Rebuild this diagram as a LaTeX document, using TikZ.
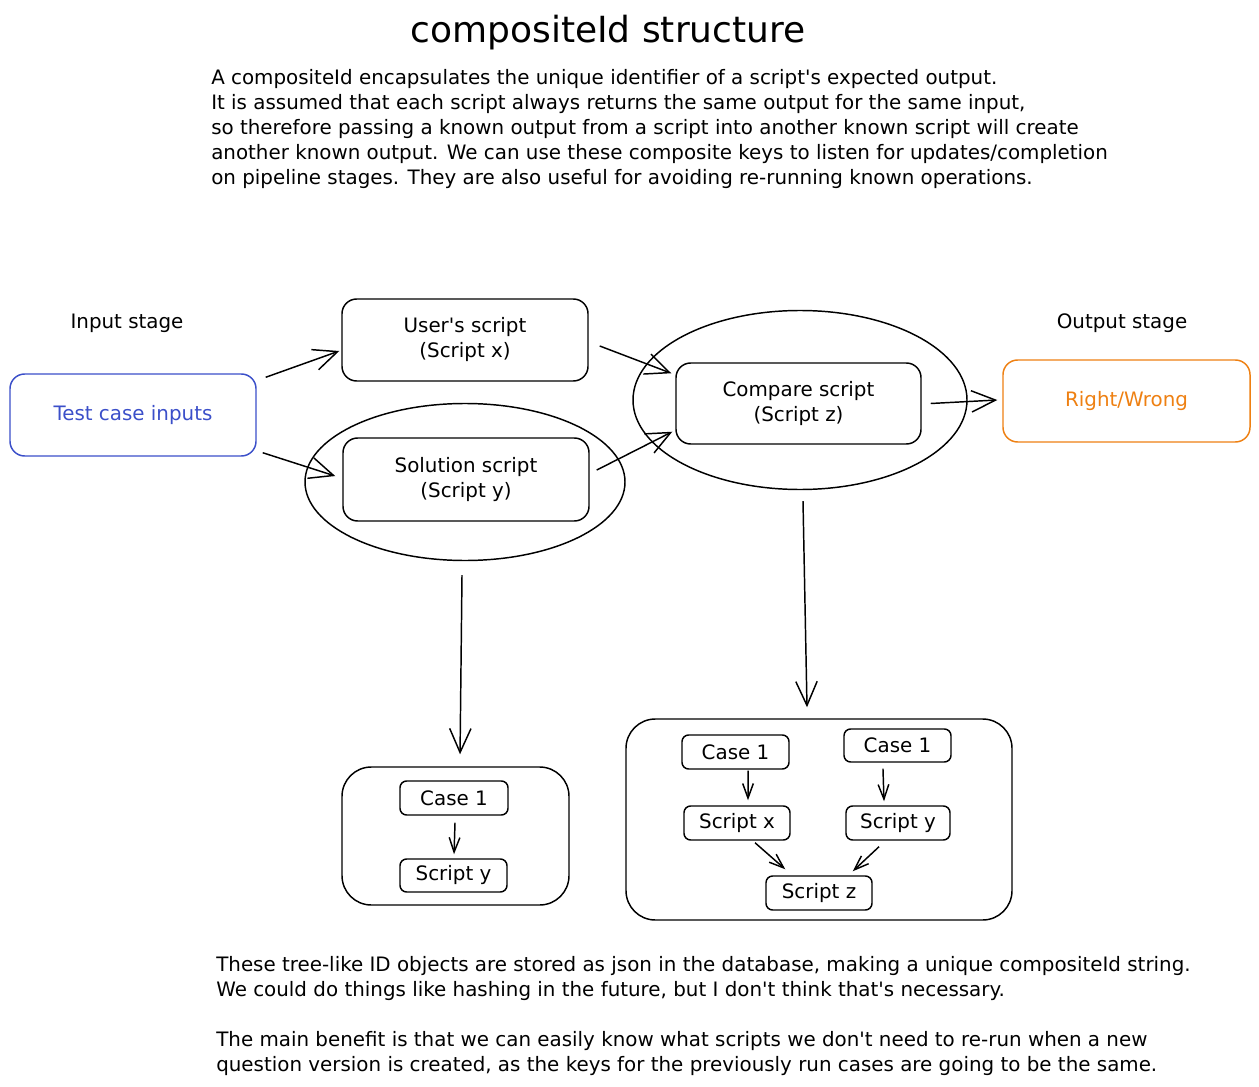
\documentclass[tikz,border=0pt]{standalone}
\usepackage{fontspec}
\setmainfont{DejaVu Sans}
\usetikzlibrary{arrows.meta,shapes.geometric}
\definecolor{inblue}{HTML}{3B4FC9}
\definecolor{outorange}{HTML}{EE8012}
\newcommand{\apos}{\textquotesingle}
\begin{document}
\begin{tikzpicture}[x=0.75pt,y=-0.75pt,
  every node/.style={font={\fontsize{14.9}{18.75}\selectfont}},
  box/.style={draw, line width=1.1pt, rounded corners=11pt, align=center, inner sep=0pt},
  smallbox/.style={draw, line width=1.1pt, rounded corners=5pt, align=center, inner sep=0pt, minimum width=80pt, minimum height=25pt},
  ring/.style={draw, ellipse, line width=1.1pt, inner sep=0pt},
  bigarrow/.style={draw, line width=1.1pt, -{Straight Barb[length=18pt,width=16pt,line width=1.1pt]}},
  smallarrow/.style={draw, line width=1.1pt, -{Straight Barb[length=11pt,width=8pt,line width=1.1pt]}},
  para/.style={anchor=north west, align=left, inner sep=0pt}
]
\useasboundingbox (0,0) rectangle (1259,1087);

% title and intro
\node (title) at (608,33) {\fontsize{27}{30}\selectfont compositeId structure};
\node[para] (intro) at (211,69) {A compositeId encapsulates the unique identifier of a script\apos s expected output.\\
It is assumed that each script always returns the same output for the same input,\\
so therefore passing a known output from a script into another known script will create\\
another known output. We can use these composite keys to listen for updates/completion\\
on pipeline stages. They are also useful for avoiding re-running known operations.};

% stage labels
\node (instage) at (127,323) {Input stage};
\node (outstage) at (1122,323) {Output stage};

% main boxes
\node[box, draw=inblue, text=inblue, minimum width=184.5pt, minimum height=61.5pt] (test) at (133,415) {Test case inputs};
\node[box, minimum width=184.5pt, minimum height=61.5pt] (user) at (465,340) {User\apos s script\\(Script x)};
\node[ring, minimum width=240pt, minimum height=117.75pt] (solell) at (465,482) {};
\node[box, minimum width=184.5pt, minimum height=62.25pt] (sol) at (466,479.5) {Solution script\\(Script y)};
\node[ring, minimum width=250.5pt, minimum height=134.25pt] (cmpell) at (800,400) {};
\node[box, minimum width=183.75pt, minimum height=60.75pt] (cmp) at (798.5,403.5) {Compare script\\(Script z)};
\node[box, draw=outorange, text=outorange, minimum width=185.25pt, minimum height=61.5pt] (rw) at (1126.5,401) {Right/Wrong};

% arrows between main boxes
\draw[bigarrow] ([xshift=6.75pt,yshift=-3pt]test.north east) -- ([xshift=-1.5pt,yshift=-8.25pt]user.west);
\draw[bigarrow] ([xshift=4.5pt,yshift=3pt]test.south east) -- ([xshift=-5.25pt,yshift=2.6pt]sol.west);
\draw[bigarrow] ([xshift=8.25pt,yshift=-4.5pt]user.east) -- ([xshift=-3pt,yshift=-8.25pt]cmp.north west);
\draw[bigarrow] ([xshift=5.25pt,yshift=7.1pt]sol.east) -- ([xshift=-2.25pt,yshift=9.75pt]cmp.south west);
\draw[bigarrow] ([xshift=6.75pt]cmp.east) -- ([xshift=-3.75pt,yshift=0.75pt]rw.west);

% containers
\node[box, rounded corners=22pt, minimum width=170.25pt, minimum height=103.5pt] (leftc) at (455.5,836) {};
\node[box, rounded corners=22pt, minimum width=289.5pt, minimum height=150.75pt] (rightc) at (819,819.5) {};

\draw[bigarrow] ([xshift=-2.25pt,yshift=-10.5pt]solell.south) -- ([xshift=3.4pt,yshift=9pt]leftc.north);
\draw[bigarrow] ([xshift=2.25pt,yshift=-8.25pt]cmpell.south) -- ([xshift=-9pt,yshift=8.25pt]rightc.north);

% left tree
\node[smallbox, minimum width=81pt, minimum height=25.5pt] (casea) at (454,798) {Case 1};
\node[smallbox, minimum width=80.25pt, minimum height=24.75pt] (scya) at (453.5,875.5) {Script y};
\draw[smallarrow] ([xshift=0.75pt,yshift=-5.25pt]casea.south) -- ([xshift=0.4pt,yshift=3pt]scya.north);

% right tree
\node[smallbox, minimum width=80.25pt, minimum height=25.5pt] (caseb) at (735.5,752) {Case 1};
\node[smallbox, minimum width=80.25pt, minimum height=24.75pt] (casec) at (897.5,745.5) {Case 1};
\node[smallbox, minimum width=79.5pt, minimum height=25.5pt] (scx) at (737,823) {Script x};
\node[smallbox, minimum width=78pt, minimum height=25.5pt] (scyb) at (898,823) {Script y};
\node[smallbox, minimum width=79.5pt, minimum height=25.5pt] (scz) at (819,893) {Script z};
\draw[smallarrow] ([xshift=9.4pt,yshift=-0.75pt]caseb.south) -- ([xshift=8.25pt,yshift=3.75pt]scx.north);
\draw[smallarrow] ([xshift=-10.9pt,yshift=-4.5pt]casec.south) -- ([xshift=-10.5pt,yshift=3pt]scyb.north);
\draw[smallarrow] ([xshift=13.5pt,yshift=-1.5pt]scx.south) -- ([xshift=15pt,yshift=4.5pt]scz.north west);
\draw[smallarrow] ([xshift=-14.25pt,yshift=-4.5pt]scyb.south) -- ([xshift=-15pt,yshift=3pt]scz.north east);

% bottom text
\node[para] (notes) at (216,956) {These tree-like ID objects are stored as json in the database, making a unique compositeId string.\\
We could do things like hashing in the future, but I don\apos t think that\apos s necessary.};
\node[para] (benefit) at (216,1031) {The main benefit is that we can easily know what scripts we don\apos t need to re-run when a new\\
question version is created, as the keys for the previously run cases are going to be the same.};
\end{tikzpicture}
\end{document}
